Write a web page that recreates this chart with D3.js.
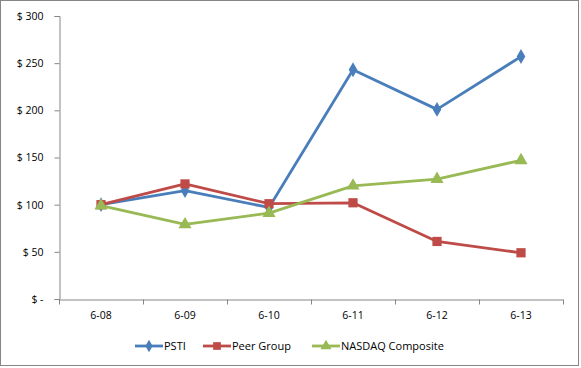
<!DOCTYPE html>
<html>
<head>
<meta charset="utf-8">
<script src="https://cdn.jsdelivr.net/npm/d3@7"></script>
<style>
  body { margin: 0; background: #fff; }
  text { font-family: "Open Sans", "Noto Sans", sans-serif; font-size: 10.5px; fill: #000; }
  .legend text { font-size: 11px; }
</style>
</head>
<body>
<div id="chart"></div>
<script>
// Cumulative total return, $100 invested
const years = ["6-08", "6-09", "6-10", "6-11", "6-12", "6-13"];
const psti = [100, 115, 97, 243, 201, 257];
const peer = [100, 122, 101, 102, 61, 49];
const nasdaq = [99, 79, 91, 120, 127, 147];
const yTicks = [0, 50, 100, 150, 200, 250, 300];

const series = [
  { name: "PSTI", values: psti, color: "#4A7EBB", symbol: d3.symbolDiamond, size: 64 },
  { name: "Peer Group", values: peer, color: "#BE4B48", symbol: d3.symbolSquare, size: 85 },
  { name: "NASDAQ Composite", values: nasdaq, color: "#98B954", symbol: d3.symbolTriangle, size: 75 }
];

const W = 581, H = 368;
const plot = { left: 59, right: 563, top: 16, bottom: 299 };

const svg = d3.select("#chart").append("svg")
  .attr("width", W)
  .attr("height", H);

// chart border
svg.append("rect")
  .attr("x", 0.5).attr("y", 0.5)
  .attr("width", 578).attr("height", 365)
  .attr("fill", "#fff")
  .attr("stroke", "#868686");

const x = d3.scaleBand().domain(years).range([plot.left, plot.right]);
const y = d3.scaleLinear().domain([0, 300]).range([plot.bottom, plot.top]);

// y axis
const yAxis = d3.axisLeft(y)
  .tickValues(yTicks)
  .tickSize(5)
  .tickPadding(11)
  .tickFormat(d => d === 0 ? "$ -" : "$ " + d);

const yg = svg.append("g")
  .attr("transform", `translate(${plot.left + 0.5},0)`)
  .call(yAxis);

// x axis, ticks between categories
const xAxis = d3.axisBottom(x).tickSize(0).tickPadding(12);
const xg = svg.append("g")
  .attr("transform", `translate(0,${plot.bottom + 0.5})`)
  .call(xAxis);

xg.selectAll(".tick-sep")
  .data(d3.range(years.length + 1))
  .enter().append("line")
  .attr("x1", i => Math.round(plot.left + i * x.step()) + 0.5)
  .attr("x2", i => Math.round(plot.left + i * x.step()) + 0.5)
  .attr("y1", 0)
  .attr("y2", 5)
  .attr("stroke", "#868686");

[yg, xg].forEach(g => {
  g.select(".domain").attr("stroke", "#868686");
  g.selectAll(".tick line").attr("stroke", "#868686");
  g.selectAll("text").attr("font-size", null).attr("font-family", null);
});
svg.selectAll(".tick text").style("font-size", "10.5px").style("font-family", "'Open Sans', sans-serif");

const line = d3.line()
  .x((d, i) => x(years[i]) + x.bandwidth() / 2)
  .y(d => y(d));

series.forEach(s => {
  svg.append("path")
    .datum(s.values)
    .attr("fill", "none")
    .attr("stroke", s.color)
    .attr("stroke-width", 2.8)
    .attr("stroke-linejoin", "round")
    .attr("d", line);
});

series.forEach(s => {
  svg.selectAll(null)
    .data(s.values)
    .enter().append("path")
    .attr("transform", (d, i) => `translate(${x(years[i]) + x.bandwidth() / 2},${y(d)})`)
    .attr("d", d3.symbol().type(s.symbol).size(s.size))
    .attr("fill", s.color);
});

// legend
const legendX = [135, 203, 312];
const legend = svg.append("g").attr("class", "legend").attr("transform", "translate(0,346)");
series.forEach((s, i) => {
  const g = legend.append("g").attr("transform", `translate(${legendX[i]},0)`);
  g.append("line")
    .attr("x1", 0).attr("x2", 28)
    .attr("stroke", s.color)
    .attr("stroke-width", 2.8);
  g.append("path")
    .attr("transform", "translate(14,0)")
    .attr("d", d3.symbol().type(s.symbol).size(s.size * 0.7))
    .attr("fill", s.color);
  g.append("text")
    .attr("x", 29)
    .attr("dy", "0.35em")
    .text(s.name);
});
</script>
</body>
</html>
